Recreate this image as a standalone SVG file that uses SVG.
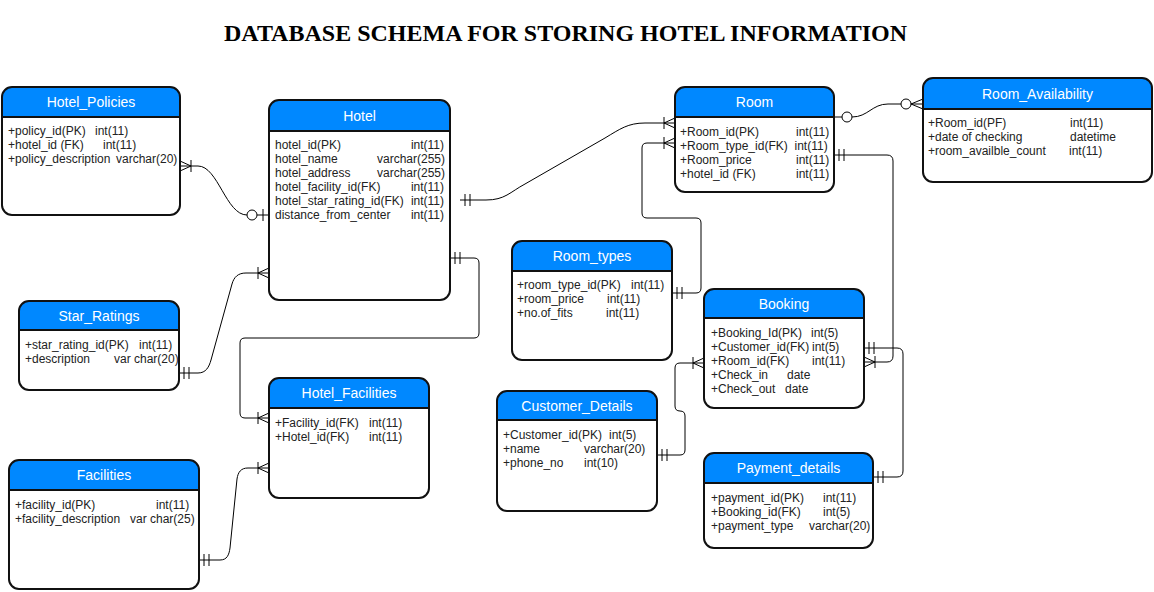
<svg xmlns="http://www.w3.org/2000/svg" width="1154" height="592" viewBox="0 0 1154 592">
<style>
.bg{fill:#ffffff;stroke:none}
.hdr{fill:#0088ff;stroke:none}
.ol{fill:none;stroke:#111;stroke-width:2}
.sep{stroke:#111;stroke-width:2}
.ttl{font-family:"Liberation Sans",Arial,sans-serif;font-size:14px;fill:#ffffff;text-anchor:middle}
.row{font-family:"Liberation Sans",Arial,sans-serif;font-size:12px;fill:#222}
.end{text-anchor:end}
.conn path{fill:none;stroke:#000;stroke-width:1}
.mk{fill:none;stroke:#000;stroke-width:1}
.mc{fill:#fff;stroke:#000;stroke-width:1}
.title{font-family:"Liberation Serif","Times New Roman",serif;font-size:24px;font-weight:bold;fill:#000;text-anchor:middle}
</style>
<defs>
<marker id="mOne" markerUnits="userSpaceOnUse" orient="auto-start-reverse" viewBox="-24 -8 26 16" markerWidth="26" markerHeight="16" refX="0" refY="0" overflow="visible">
<path class="mk" d="M-5,-6V6M-10,-6V6"/>
</marker>
<marker id="mMany" markerUnits="userSpaceOnUse" orient="auto-start-reverse" viewBox="-24 -8 26 16" markerWidth="26" markerHeight="16" refX="0" refY="0" overflow="visible">
<path class="mk" d="M-11,-6V6M-11,0L0,-5M-11,0L0,5"/>
</marker>
<marker id="mZeroOne" markerUnits="userSpaceOnUse" orient="auto-start-reverse" viewBox="-24 -8 26 16" markerWidth="26" markerHeight="16" refX="0" refY="0" overflow="visible">
<path class="mk" d="M-6,-6V6"/>
<circle class="mc" cx="-17" cy="0" r="5"/>
</marker>
<marker id="mZeroMany" markerUnits="userSpaceOnUse" orient="auto-start-reverse" viewBox="-24 -8 26 16" markerWidth="26" markerHeight="16" refX="0" refY="0" overflow="visible">
<path class="mk" d="M-12,0L0,-5M-12,0L0,5"/>
<circle class="mc" cx="-17" cy="0" r="5"/>
</marker>
<marker id="mOval" markerUnits="userSpaceOnUse" orient="auto-start-reverse" viewBox="-24 -8 26 16" markerWidth="26" markerHeight="16" refX="0" refY="0" overflow="visible">
<circle class="mc" cx="-13" cy="0" r="5"/>
</marker>
</defs>
<rect x="0" y="0" width="1154" height="592" fill="#ffffff"/>
<text class="title" x="565.5" y="41">DATABASE SCHEMA FOR STORING HOTEL INFORMATION</text>

<g class="conn" id="connectors">
<path d="M180,166 L198,166 C218,166 226,215 247,215 L269,215" marker-start="url(#mMany)" marker-end="url(#mZeroOne)"/>
<path d="M460,200 L486,200 C505,200 510,192 525,184 L605,138 C620,129 628,123 645,123 L675,123" marker-start="url(#mOne)" marker-end="url(#mMany)"/>
<path d="M450,258 L474,258 Q479,258 479,263 L479,333 Q479,338 474,338 L245,338 Q240,338 240,343 L240,413 Q240,418 245,418 L269,418" marker-start="url(#mOne)" marker-end="url(#mMany)"/>
<path d="M179,373 L198,373 C206,373 209,367 211,360 L232,284 C234,277 238,273 246,273 L269,273" marker-start="url(#mOne)" marker-end="url(#mMany)"/>
<path d="M199,560 L220,560 C227,560 229,555 230,548 L237,479 C238,472 241,468 248,468 L269,468" marker-start="url(#mOne)" marker-end="url(#mMany)"/>
<path d="M672,293 L696,293 Q701,293 701,288 L701,223 Q701,218 696,218 L647,218 Q642,218 642,213 L642,148 Q642,143 647,143 L675,143" marker-start="url(#mOne)" marker-end="url(#mMany)"/>
<path d="M834,155 L887,155 Q893,155 893,161 L893,356 Q893,362 887,362 L864,362" marker-start="url(#mOne)" marker-end="url(#mMany)"/>
<path d="M864,348 L897,348 Q903,348 903,354 L903,471 Q903,477 897,477 L873,477" marker-start="url(#mOne)" marker-end="url(#mOne)"/>
<path d="M657,455 L680,455 Q685,455 685,450 L685,416 Q685,411 680,411 Q675,411 675,406 L675,368 Q675,363 680,363 L704,363" marker-start="url(#mOne)" marker-end="url(#mMany)"/>
<path d="M834,117 L852,117 C868,117 872,104 888,104 L923,104" marker-start="url(#mOval)" marker-end="url(#mZeroMany)"/>
</g>

<g id="hotel_policies">
<rect class="bg" x="2" y="87" width="178" height="128" rx="10"/>
<path class="hdr" d="M2,117 V97 A10,10 0 0 1 12,87 H170 A10,10 0 0 1 180,97 V117 Z"/>
<rect class="ol" x="2" y="87" width="178" height="128" rx="10"/>
<line class="sep" x1="2" y1="117" x2="180" y2="117"/>
<text class="ttl" x="91" y="107">Hotel_Policies</text>
<text class="row" x="8" y="134.5">+policy_id(PK)</text><text class="row" x="95" y="134.5">int(11)</text>
<text class="row" x="8" y="148.5">+hotel_id (FK)</text><text class="row" x="103" y="148.5">int(11)</text>
<text class="row" x="8" y="162.5">+policy_description</text><text class="row" x="116" y="162.5">varchar(20)</text>
</g>

<g id="hotel">
<rect class="bg" x="269" y="100" width="181" height="200" rx="10"/>
<path class="hdr" d="M269,131 V110 A10,10 0 0 1 279,100 H440 A10,10 0 0 1 450,110 V131 Z"/>
<rect class="ol" x="269" y="100" width="181" height="200" rx="10"/>
<line class="sep" x1="269" y1="131" x2="450" y2="131"/>
<text class="ttl" x="359.5" y="120.5">Hotel</text>
<text class="row" x="275" y="148.5">hotel_id(PK)</text><text class="row end" x="444" y="148.5">int(11)</text>
<text class="row" x="275" y="162.5">hotel_name</text><text class="row end" x="445" y="162.5">varchar(255)</text>
<text class="row" x="275" y="176.5">hotel_address</text><text class="row end" x="445" y="176.5">varchar(255)</text>
<text class="row" x="275" y="190.5">hotel_facility_id(FK)</text><text class="row end" x="444" y="190.5">int(11)</text>
<text class="row" x="275" y="204.5">hotel_star_rating_id(FK)</text><text class="row end" x="444" y="204.5">int(11)</text>
<text class="row" x="275" y="218.5">distance_from_center</text><text class="row end" x="444" y="218.5">int(11)</text>
</g>

<g id="room">
<rect class="bg" x="675" y="87" width="159" height="105" rx="10"/>
<path class="hdr" d="M675,117 V97 A10,10 0 0 1 685,87 H824 A10,10 0 0 1 834,97 V117 Z"/>
<rect class="ol" x="675" y="87" width="159" height="105" rx="10"/>
<line class="sep" x1="675" y1="117" x2="834" y2="117"/>
<text class="ttl" x="754.5" y="107">Room</text>
<text class="row" x="680" y="135.5">+Room_id(PK)</text><text class="row" x="796" y="135.5">int(11)</text>
<text class="row" x="680" y="149.5">+Room_type_id(FK)</text><text class="row" x="794.5" y="149.5">int(11)</text>
<text class="row" x="680" y="163.5">+Room_price</text><text class="row" x="796" y="163.5">int(11)</text>
<text class="row" x="680" y="177.5">+hotel_id (FK)</text><text class="row" x="796" y="177.5">int(11)</text>
</g>

<g id="room_availability">
<rect class="bg" x="923" y="78" width="229" height="104" rx="10"/>
<path class="hdr" d="M923,109 V88 A10,10 0 0 1 933,78 H1142 A10,10 0 0 1 1152,88 V109 Z"/>
<rect class="ol" x="923" y="78" width="229" height="104" rx="10"/>
<line class="sep" x1="923" y1="109" x2="1152" y2="109"/>
<text class="ttl" x="1037.5" y="98.5">Room_Availability</text>
<text class="row" x="928" y="126.5">+Room_id(PF)</text><text class="row" x="1070" y="126.5">int(11)</text>
<text class="row" x="928" y="140.5">+date of checking</text><text class="row" x="1070" y="140.5">datetime</text>
<text class="row" x="928" y="154.5">+room_availble_count</text><text class="row" x="1069" y="154.5">int(11)</text>
</g>

<g id="room_types">
<rect class="bg" x="512" y="241" width="160" height="119" rx="10"/>
<path class="hdr" d="M512,271 V251 A10,10 0 0 1 522,241 H662 A10,10 0 0 1 672,251 V271 Z"/>
<rect class="ol" x="512" y="241" width="160" height="119" rx="10"/>
<line class="sep" x1="512" y1="271" x2="672" y2="271"/>
<text class="ttl" x="592" y="261">Room_types</text>
<text class="row" x="517" y="288.5">+room_type_id(PK)</text><text class="row" x="631" y="288.5">int(11)</text>
<text class="row" x="517" y="302.5">+room_price</text><text class="row" x="607" y="302.5">int(11)</text>
<text class="row" x="517" y="316.5">+no.of_fits</text><text class="row" x="606" y="316.5">int(11)</text>
</g>

<g id="booking">
<rect class="bg" x="704" y="289" width="160" height="119" rx="10"/>
<path class="hdr" d="M704,318 V299 A10,10 0 0 1 714,289 H854 A10,10 0 0 1 864,299 V318 Z"/>
<rect class="ol" x="704" y="289" width="160" height="119" rx="10"/>
<line class="sep" x1="704" y1="318" x2="864" y2="318"/>
<text class="ttl" x="784" y="308.5">Booking</text>
<text class="row" x="711" y="336.5">+Booking_Id(PK)</text><text class="row" x="811" y="336.5">int(5)</text>
<text class="row" x="711" y="350.5">+Customer_id(FK)</text><text class="row" x="812" y="350.5">int(5)</text>
<text class="row" x="711" y="364.5">+Room_id(FK)</text><text class="row" x="812" y="364.5">int(11)</text>
<text class="row" x="711" y="378.5">+Check_in</text><text class="row" x="787" y="378.5">date</text>
<text class="row" x="711" y="392.5">+Check_out</text><text class="row" x="785" y="392.5">date</text>
</g>

<g id="customer_details">
<rect class="bg" x="497" y="391" width="160" height="120" rx="10"/>
<path class="hdr" d="M497,420 V401 A10,10 0 0 1 507,391 H647 A10,10 0 0 1 657,401 V420 Z"/>
<rect class="ol" x="497" y="391" width="160" height="120" rx="10"/>
<line class="sep" x1="497" y1="420" x2="657" y2="420"/>
<text class="ttl" x="577" y="410.5">Customer_Details</text>
<text class="row" x="503" y="438.5">+Customer_id(PK)</text><text class="row" x="609" y="438.5">int(5)</text>
<text class="row" x="503" y="452.5">+name</text><text class="row" x="584" y="452.5">varchar(20)</text>
<text class="row" x="503" y="466.5">+phone_no</text><text class="row" x="584" y="466.5">int(10)</text>
</g>

<g id="payment_details">
<rect class="bg" x="704" y="453" width="169" height="95" rx="10"/>
<path class="hdr" d="M704,483 V463 A10,10 0 0 1 714,453 H863 A10,10 0 0 1 873,463 V483 Z"/>
<rect class="ol" x="704" y="453" width="169" height="95" rx="10"/>
<line class="sep" x1="704" y1="483" x2="873" y2="483"/>
<text class="ttl" x="788.5" y="473">Payment_details</text>
<text class="row" x="711" y="501.5">+payment_id(PK)</text><text class="row" x="823" y="501.5">int(11)</text>
<text class="row" x="711" y="515.5">+Booking_id(FK)</text><text class="row" x="823" y="515.5">int(5)</text>
<text class="row" x="711" y="529.5">+payment_type</text><text class="row" x="809" y="529.5">varchar(20)</text>
</g>

<g id="star_ratings">
<rect class="bg" x="19" y="301" width="160" height="89" rx="10"/>
<path class="hdr" d="M19,330 V311 A10,10 0 0 1 29,301 H169 A10,10 0 0 1 179,311 V330 Z"/>
<rect class="ol" x="19" y="301" width="160" height="89" rx="10"/>
<line class="sep" x1="19" y1="330" x2="179" y2="330"/>
<text class="ttl" x="99" y="320.5">Star_Ratings</text>
<text class="row" x="25" y="348.5">+star_rating_id(PK)</text><text class="row" x="139" y="348.5">int(11)</text>
<text class="row" x="25" y="362.5">+description</text><text class="row" x="114" y="362.5">var char(20)</text>
</g>

<g id="hotel_facilities">
<rect class="bg" x="269" y="378" width="160" height="120" rx="10"/>
<path class="hdr" d="M269,408 V388 A10,10 0 0 1 279,378 H419 A10,10 0 0 1 429,388 V408 Z"/>
<rect class="ol" x="269" y="378" width="160" height="120" rx="10"/>
<line class="sep" x1="269" y1="408" x2="429" y2="408"/>
<text class="ttl" x="349" y="398">Hotel_Facilities</text>
<text class="row" x="275" y="426.5">+Facility_id(FK)</text><text class="row" x="369" y="426.5">int(11)</text>
<text class="row" x="275" y="440.5">+Hotel_id(FK)</text><text class="row" x="369" y="440.5">int(11)</text>
</g>

<g id="facilities">
<rect class="bg" x="9" y="460" width="190" height="129" rx="10"/>
<path class="hdr" d="M9,490 V470 A10,10 0 0 1 19,460 H189 A10,10 0 0 1 199,470 V490 Z"/>
<rect class="ol" x="9" y="460" width="190" height="129" rx="10"/>
<line class="sep" x1="9" y1="490" x2="199" y2="490"/>
<text class="ttl" x="104" y="480">Facilities</text>
<text class="row" x="15" y="508.5">+facility_id(PK)</text><text class="row" x="156" y="508.5">int(11)</text>
<text class="row" x="15" y="522.5">+facility_description</text><text class="row" x="130" y="522.5">var char(25)</text>
</g>
</svg>
